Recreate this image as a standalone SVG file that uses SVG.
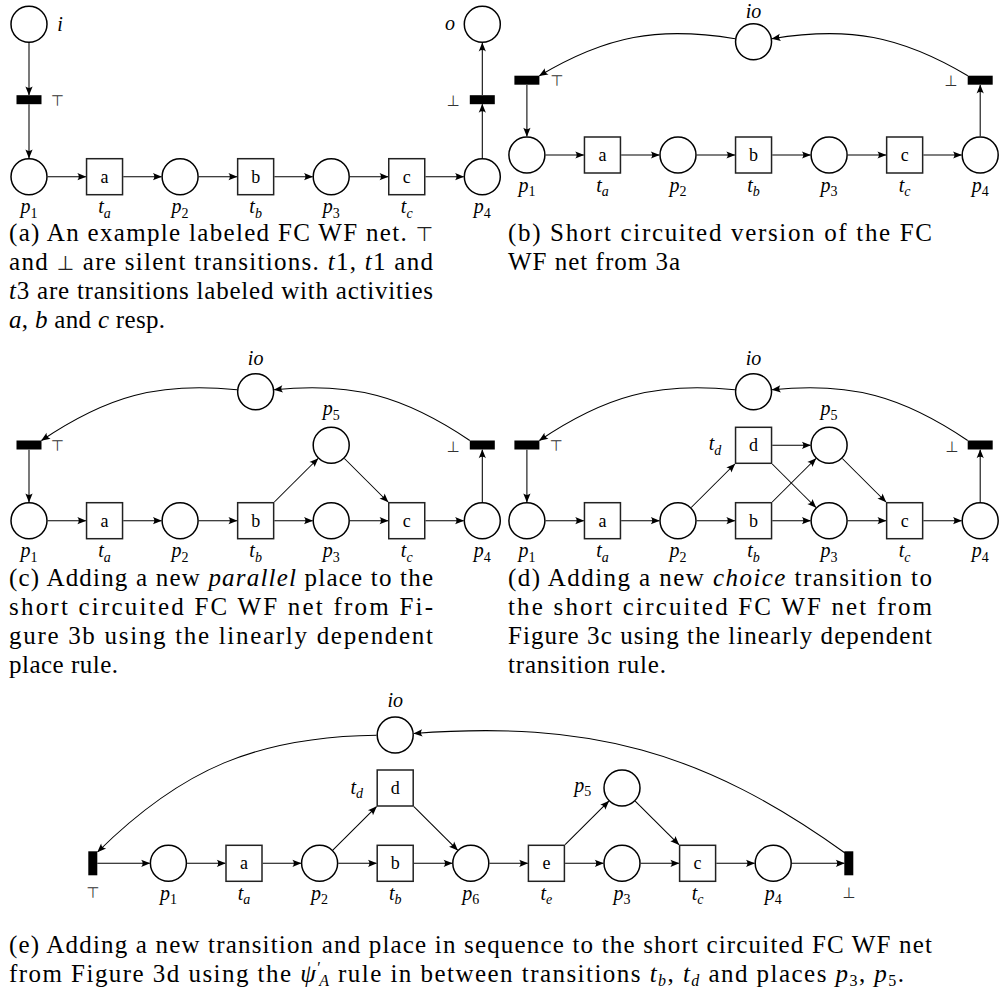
<svg xmlns="http://www.w3.org/2000/svg" width="1003" height="988" viewBox="0 0 1003 988">
<style>
.place{fill:#fff;stroke:#000;stroke-width:1.5}
.trans{fill:#fff;stroke:#222;stroke-width:1.5}
.bar{fill:#000}
.arc{fill:none;stroke:#000;stroke-width:1.05;marker-end:url(#ah)}
.lbl{font-family:'Liberation Serif',serif;font-size:20px;font-style:italic;text-anchor:middle;fill:#000}
.sb{font-size:14px}
.up{font-style:normal}
.nl{font-family:'Liberation Serif',serif;font-size:18px;text-anchor:middle;fill:#000}
.sym{font-family:'DejaVu Sans',sans-serif;font-size:15px;text-anchor:middle;fill:#333}
.cap{font-family:'Liberation Serif',serif;font-size:25px;fill:#000}
.it{font-style:italic}
.csym{font-family:'DejaVu Sans',sans-serif;font-size:20px;fill:#222}
</style>
<defs>
<marker id="ah" viewBox="-10 -5 11 10" refX="0" refY="0" markerWidth="11" markerHeight="10" markerUnits="userSpaceOnUse" orient="auto">
<path d="M0.5,0 L-8.5,-3.6 Q-5.6,0 -8.5,3.6 Z" fill="#000"/>
</marker>
</defs>
<rect width="1003" height="988" fill="#fff"/>

<g id="connectors">
<!-- panel a -->
<line class="arc" x1="29" y1="43" x2="29" y2="95"/>
<line class="arc" x1="29" y1="104.2" x2="29" y2="158"/>
<line class="arc" x1="47.7" y1="176.7" x2="85.85" y2="176.7"/>
<line class="arc" x1="123.25" y1="176.7" x2="161.4" y2="176.7"/>
<line class="arc" x1="198.8" y1="176.7" x2="236.95" y2="176.7"/>
<line class="arc" x1="274.35" y1="176.7" x2="312.5" y2="176.7"/>
<line class="arc" x1="349.9" y1="176.7" x2="388.05" y2="176.7"/>
<line class="arc" x1="425.45" y1="176.7" x2="463.6" y2="176.7"/>
<line class="arc" x1="482.3" y1="158" x2="482.3" y2="104.2"/>
<line class="arc" x1="482.3" y1="95" x2="482.3" y2="43"/>
<!-- panel b -->
<path class="arc" d="M735.1,38.7 C658.2,26.1 606.6,35.6 539.4,75.7"/>
<path class="arc" d="M967.8,75.7 C900.4,35.6 848.8,26.1 772,38.7"/>
<line class="arc" x1="526.9" y1="84.9" x2="526.9" y2="136.3"/>
<line class="arc" x1="545.6" y1="155" x2="583.75" y2="155"/>
<line class="arc" x1="621.15" y1="155" x2="659.3" y2="155"/>
<line class="arc" x1="696.7" y1="155" x2="734.85" y2="155"/>
<line class="arc" x1="772.25" y1="155" x2="810.4" y2="155"/>
<line class="arc" x1="847.8" y1="155" x2="885.95" y2="155"/>
<line class="arc" x1="923.35" y1="155" x2="961.5" y2="155"/>
<line class="arc" x1="980.2" y1="136.3" x2="980.2" y2="84.9"/>
<!-- panel c -->
<path class="arc" d="M237.05,389.8 C158.35,381.7 107.1,396.3 41.5,440.5"/>
<path class="arc" d="M469.8,440.5 C404.2,396.3 352.95,381.7 274.25,389.8"/>
<line class="arc" x1="29" y1="449.7" x2="29" y2="502"/>
<line class="arc" x1="47.7" y1="520.7" x2="85.85" y2="520.7"/>
<line class="arc" x1="123.25" y1="520.7" x2="161.4" y2="520.7"/>
<line class="arc" x1="198.8" y1="520.7" x2="236.95" y2="520.7"/>
<line class="arc" x1="274.35" y1="520.7" x2="312.5" y2="520.7"/>
<line class="arc" x1="349.9" y1="520.7" x2="388.05" y2="520.7"/>
<line class="arc" x1="425.45" y1="520.7" x2="463.6" y2="520.7"/>
<line class="arc" x1="482.3" y1="502" x2="482.3" y2="449.7"/>
<line class="arc" x1="274.35" y1="502" x2="318" y2="458.5"/>
<line class="arc" x1="344.4" y1="458.5" x2="388.05" y2="502"/>
<!-- panel d -->
<path class="arc" d="M734.95,389.8 C656.25,381.7 605,396.3 539.4,440.5"/>
<path class="arc" d="M967.7,440.5 C902.1,396.3 850.85,381.7 772.15,389.8"/>
<line class="arc" x1="526.9" y1="449.7" x2="526.9" y2="502"/>
<line class="arc" x1="545.6" y1="520.7" x2="583.75" y2="520.7"/>
<line class="arc" x1="621.15" y1="520.7" x2="659.3" y2="520.7"/>
<line class="arc" x1="696.7" y1="520.7" x2="734.85" y2="520.7"/>
<line class="arc" x1="772.25" y1="520.7" x2="810.4" y2="520.7"/>
<line class="arc" x1="847.8" y1="520.7" x2="885.95" y2="520.7"/>
<line class="arc" x1="923.35" y1="520.7" x2="961.5" y2="520.7"/>
<line class="arc" x1="980.2" y1="502" x2="980.2" y2="449.7"/>
<line class="arc" x1="772.25" y1="445.3" x2="810.4" y2="445.3"/>
<line class="arc" x1="691.2" y1="507.5" x2="734.85" y2="464"/>
<line class="arc" x1="772.25" y1="464" x2="815.9" y2="507.5"/>
<line class="arc" x1="772.25" y1="502" x2="815.9" y2="458.5"/>
<line class="arc" x1="842.3" y1="458.5" x2="885.95" y2="502"/>
<!-- panel e -->
<path class="arc" d="M376.5,735.2 C258,736.6 181.6,768.7 97.6,852"/>
<path class="arc" d="M845,853 C702.9,750.8 588.4,720.4 413.9,733.5"/>
<line class="arc" x1="97.3" y1="863.3" x2="149.7" y2="863.3"/>
<line class="arc" x1="187.1" y1="863.3" x2="225.3" y2="863.3"/>
<line class="arc" x1="262.7" y1="863.3" x2="300.9" y2="863.3"/>
<line class="arc" x1="338.3" y1="863.3" x2="376.5" y2="863.3"/>
<line class="arc" x1="413.9" y1="863.3" x2="452.1" y2="863.3"/>
<line class="arc" x1="489.5" y1="863.3" x2="527.7" y2="863.3"/>
<line class="arc" x1="565.1" y1="863.3" x2="603.3" y2="863.3"/>
<line class="arc" x1="640.7" y1="863.3" x2="678.9" y2="863.3"/>
<line class="arc" x1="716.3" y1="863.3" x2="754.5" y2="863.3"/>
<line class="arc" x1="791.9" y1="863.3" x2="844.3" y2="863.3"/>
<line class="arc" x1="332.8" y1="850.1" x2="376.5" y2="806.7"/>
<line class="arc" x1="413.9" y1="806.7" x2="457.6" y2="850.1"/>
<line class="arc" x1="565.1" y1="844.6" x2="608.8" y2="801.2"/>
<line class="arc" x1="635.2" y1="801.2" x2="678.9" y2="844.6"/>
</g>

<!-- panel a -->
<g id="a-i"><circle class="place" cx="29" cy="24.3" r="18"/><text class="lbl" x="60" y="31">i</text></g>
<g id="a-top"><rect class="bar" x="16.5" y="95.2" width="25" height="9"/><text class="sym" x="57.3" y="105.5">⊤</text></g>
<g id="a-p1"><circle class="place" cx="29" cy="176.7" r="18"/><text class="lbl" x="29" y="213.2">p<tspan class="sb up" dy="4.5">1</tspan></text></g>
<g id="a-ta"><rect class="trans" x="86.55" y="158.7" width="36" height="36"/><text class="nl" x="104.55" y="182.5">a</text><text class="lbl" x="104.55" y="213.2">t<tspan class="sb" dy="4.5">a</tspan></text></g>
<g id="a-p2"><circle class="place" cx="180.1" cy="176.7" r="18"/><text class="lbl" x="180.1" y="213.2">p<tspan class="sb up" dy="4.5">2</tspan></text></g>
<g id="a-tb"><rect class="trans" x="237.65" y="158.7" width="36" height="36"/><text class="nl" x="255.65" y="182.5">b</text><text class="lbl" x="255.65" y="213.2">t<tspan class="sb" dy="4.5">b</tspan></text></g>
<g id="a-p3"><circle class="place" cx="331.2" cy="176.7" r="18"/><text class="lbl" x="331.2" y="213.2">p<tspan class="sb up" dy="4.5">3</tspan></text></g>
<g id="a-tc"><rect class="trans" x="388.75" y="158.7" width="36" height="36"/><text class="nl" x="406.75" y="182.5">c</text><text class="lbl" x="406.75" y="213.2">t<tspan class="sb" dy="4.5">c</tspan></text></g>
<g id="a-p4"><circle class="place" cx="482.3" cy="176.7" r="18"/><text class="lbl" x="482.3" y="213.2">p<tspan class="sb up" dy="4.5">4</tspan></text></g>
<g id="a-bot"><rect class="bar" x="469.8" y="95.2" width="25" height="9"/><text class="sym" x="453" y="105.5">⊥</text></g>
<g id="a-o"><circle class="place" cx="482.3" cy="24.3" r="18"/><text class="lbl" x="450" y="30">o</text></g>

<!-- panel b -->
<g id="b-io"><circle class="place" cx="753.55" cy="41.7" r="18"/><text class="lbl" x="753.55" y="17.5">io</text></g>
<g id="b-top"><rect class="bar" x="514.4" y="75.7" width="25" height="9"/><text class="sym" x="556.7" y="86.3">⊤</text></g>
<g id="b-bot"><rect class="bar" x="967.7" y="75.7" width="25" height="9"/><text class="sym" x="950.7" y="86.3">⊥</text></g>
<g id="b-p1"><circle class="place" cx="526.9" cy="155" r="18"/><text class="lbl" x="526.9" y="191.5">p<tspan class="sb up" dy="4.5">1</tspan></text></g>
<g id="b-ta"><rect class="trans" x="584.45" y="137" width="36" height="36"/><text class="nl" x="602.45" y="160.8">a</text><text class="lbl" x="602.45" y="191.5">t<tspan class="sb" dy="4.5">a</tspan></text></g>
<g id="b-p2"><circle class="place" cx="678" cy="155" r="18"/><text class="lbl" x="678" y="191.5">p<tspan class="sb up" dy="4.5">2</tspan></text></g>
<g id="b-tb"><rect class="trans" x="735.55" y="137" width="36" height="36"/><text class="nl" x="753.55" y="160.8">b</text><text class="lbl" x="753.55" y="191.5">t<tspan class="sb" dy="4.5">b</tspan></text></g>
<g id="b-p3"><circle class="place" cx="829.1" cy="155" r="18"/><text class="lbl" x="829.1" y="191.5">p<tspan class="sb up" dy="4.5">3</tspan></text></g>
<g id="b-tc"><rect class="trans" x="886.65" y="137" width="36" height="36"/><text class="nl" x="904.65" y="160.8">c</text><text class="lbl" x="904.65" y="191.5">t<tspan class="sb" dy="4.5">c</tspan></text></g>
<g id="b-p4"><circle class="place" cx="980.2" cy="155" r="18"/><text class="lbl" x="980.2" y="191.5">p<tspan class="sb up" dy="4.5">4</tspan></text></g>

<!-- panel c -->
<g id="c-io"><circle class="place" cx="255.65" cy="391.7" r="18"/><text class="lbl" x="255.65" y="364.5">io</text></g>
<g id="c-top"><rect class="bar" x="16.5" y="440.5" width="25" height="9"/><text class="sym" x="57.3" y="451">⊤</text></g>
<g id="c-bot"><rect class="bar" x="469.8" y="440.5" width="25" height="9"/><text class="sym" x="453" y="451.5">⊥</text></g>
<g id="c-p5"><circle class="place" cx="331.2" cy="445.3" r="18"/><text class="lbl" x="331.2" y="415">p<tspan class="sb up" dy="4.5">5</tspan></text></g>
<g id="c-p1"><circle class="place" cx="29" cy="520.7" r="18"/><text class="lbl" x="29" y="557.2">p<tspan class="sb up" dy="4.5">1</tspan></text></g>
<g id="c-ta"><rect class="trans" x="86.55" y="502.7" width="36" height="36"/><text class="nl" x="104.55" y="526.5">a</text><text class="lbl" x="104.55" y="557.2">t<tspan class="sb" dy="4.5">a</tspan></text></g>
<g id="c-p2"><circle class="place" cx="180.1" cy="520.7" r="18"/><text class="lbl" x="180.1" y="557.2">p<tspan class="sb up" dy="4.5">2</tspan></text></g>
<g id="c-tb"><rect class="trans" x="237.65" y="502.7" width="36" height="36"/><text class="nl" x="255.65" y="526.5">b</text><text class="lbl" x="255.65" y="557.2">t<tspan class="sb" dy="4.5">b</tspan></text></g>
<g id="c-p3"><circle class="place" cx="331.2" cy="520.7" r="18"/><text class="lbl" x="331.2" y="557.2">p<tspan class="sb up" dy="4.5">3</tspan></text></g>
<g id="c-tc"><rect class="trans" x="388.75" y="502.7" width="36" height="36"/><text class="nl" x="406.75" y="526.5">c</text><text class="lbl" x="406.75" y="557.2">t<tspan class="sb" dy="4.5">c</tspan></text></g>
<g id="c-p4"><circle class="place" cx="482.3" cy="520.7" r="18"/><text class="lbl" x="482.3" y="557.2">p<tspan class="sb up" dy="4.5">4</tspan></text></g>

<!-- panel d -->
<g id="d-io"><circle class="place" cx="753.55" cy="391.7" r="18"/><text class="lbl" x="753.55" y="364.5">io</text></g>
<g id="d-top"><rect class="bar" x="514.4" y="440.5" width="25" height="9"/><text class="sym" x="556" y="451">⊤</text></g>
<g id="d-bot"><rect class="bar" x="967.7" y="440.5" width="25" height="9"/><text class="sym" x="951.7" y="451.5">⊥</text></g>
<g id="d-td"><rect class="trans" x="735.55" y="427.3" width="36" height="36"/><text class="nl" x="753.55" y="451.1">d</text><text class="lbl" x="715" y="450">t<tspan class="sb" dy="4.5">d</tspan></text></g>
<g id="d-p5"><circle class="place" cx="829.1" cy="445.3" r="18"/><text class="lbl" x="829.1" y="415">p<tspan class="sb up" dy="4.5">5</tspan></text></g>
<g id="d-p1"><circle class="place" cx="526.9" cy="520.7" r="18"/><text class="lbl" x="526.9" y="557.2">p<tspan class="sb up" dy="4.5">1</tspan></text></g>
<g id="d-ta"><rect class="trans" x="584.45" y="502.7" width="36" height="36"/><text class="nl" x="602.45" y="526.5">a</text><text class="lbl" x="602.45" y="557.2">t<tspan class="sb" dy="4.5">a</tspan></text></g>
<g id="d-p2"><circle class="place" cx="678" cy="520.7" r="18"/><text class="lbl" x="678" y="557.2">p<tspan class="sb up" dy="4.5">2</tspan></text></g>
<g id="d-tb"><rect class="trans" x="735.55" y="502.7" width="36" height="36"/><text class="nl" x="753.55" y="526.5">b</text><text class="lbl" x="753.55" y="557.2">t<tspan class="sb" dy="4.5">b</tspan></text></g>
<g id="d-p3"><circle class="place" cx="829.1" cy="520.7" r="18"/><text class="lbl" x="829.1" y="557.2">p<tspan class="sb up" dy="4.5">3</tspan></text></g>
<g id="d-tc"><rect class="trans" x="886.65" y="502.7" width="36" height="36"/><text class="nl" x="904.65" y="526.5">c</text><text class="lbl" x="904.65" y="557.2">t<tspan class="sb" dy="4.5">c</tspan></text></g>
<g id="d-p4"><circle class="place" cx="980.2" cy="520.7" r="18"/><text class="lbl" x="980.2" y="557.2">p<tspan class="sb up" dy="4.5">4</tspan></text></g>

<!-- panel e -->
<g id="e-io"><circle class="place" cx="395.2" cy="735" r="18"/><text class="lbl" x="395.2" y="706.5">io</text></g>
<g id="e-top"><rect class="bar" x="88.3" y="851.3" width="9" height="24"/><text class="sym" x="92.8" y="898">⊤</text></g>
<g id="e-p1"><circle class="place" cx="168.4" cy="863.3" r="18"/><text class="lbl" x="168.4" y="899.8">p<tspan class="sb up" dy="4.5">1</tspan></text></g>
<g id="e-ta"><rect class="trans" x="226" y="845.3" width="36" height="36"/><text class="nl" x="244" y="869.1">a</text><text class="lbl" x="244" y="899.8">t<tspan class="sb" dy="4.5">a</tspan></text></g>
<g id="e-p2"><circle class="place" cx="319.6" cy="863.3" r="18"/><text class="lbl" x="319.6" y="899.8">p<tspan class="sb up" dy="4.5">2</tspan></text></g>
<g id="e-td"><rect class="trans" x="377.2" y="770" width="36" height="36"/><text class="nl" x="395.2" y="793.8">d</text><text class="lbl" x="356.7" y="793.5">t<tspan class="sb" dy="4.5">d</tspan></text></g>
<g id="e-tb"><rect class="trans" x="377.2" y="845.3" width="36" height="36"/><text class="nl" x="395.2" y="869.1">b</text><text class="lbl" x="395.2" y="899.8">t<tspan class="sb" dy="4.5">b</tspan></text></g>
<g id="e-p6"><circle class="place" cx="470.8" cy="863.3" r="18"/><text class="lbl" x="470.8" y="899.8">p<tspan class="sb up" dy="4.5">6</tspan></text></g>
<g id="e-te"><rect class="trans" x="528.4" y="845.3" width="36" height="36"/><text class="nl" x="546.4" y="869.1">e</text><text class="lbl" x="546.4" y="899.8">t<tspan class="sb" dy="4.5">e</tspan></text></g>
<g id="e-p5"><circle class="place" cx="622" cy="788" r="18"/><text class="lbl" x="582.7" y="791.5">p<tspan class="sb up" dy="4.5">5</tspan></text></g>
<g id="e-p3"><circle class="place" cx="622" cy="863.3" r="18"/><text class="lbl" x="622" y="899.8">p<tspan class="sb up" dy="4.5">3</tspan></text></g>
<g id="e-tc"><rect class="trans" x="679.6" y="845.3" width="36" height="36"/><text class="nl" x="697.6" y="869.1">c</text><text class="lbl" x="697.6" y="899.8">t<tspan class="sb" dy="4.5">c</tspan></text></g>
<g id="e-p4"><circle class="place" cx="773.2" cy="863.3" r="18"/><text class="lbl" x="773.2" y="899.8">p<tspan class="sb up" dy="4.5">4</tspan></text></g>
<g id="e-bot"><rect class="bar" x="844.3" y="851.3" width="9" height="24"/><text class="sym" x="848.8" y="898">⊥</text></g>

<g id="captions">
<text class="cap" x="9" y="241" textLength="424" lengthAdjust="spacing">(a) An example labeled FC WF net. <tspan class="csym">⊤</tspan></text>
<text class="cap" x="9" y="270" textLength="424" lengthAdjust="spacing">and <tspan class="csym">⊥</tspan> are silent transitions. <tspan class="it">t</tspan>1, <tspan class="it">t</tspan>1 and</text>
<text class="cap" x="9" y="299" textLength="424" lengthAdjust="spacing"><tspan class="it">t</tspan>3 are transitions labeled with activities</text>
<text class="cap" x="9" y="328" textLength="156" lengthAdjust="spacing"><tspan class="it">a</tspan>, <tspan class="it">b</tspan> and <tspan class="it">c</tspan> resp.</text>

<text class="cap" x="508" y="241" textLength="424" lengthAdjust="spacing">(b) Short circuited version of the FC</text>
<text class="cap" x="508" y="270" textLength="172" lengthAdjust="spacing">WF net from 3a</text>

<text class="cap" x="9" y="586" textLength="424" lengthAdjust="spacing">(c) Adding a new <tspan class="it">parallel</tspan> place to the</text>
<text class="cap" x="9" y="615" textLength="424" lengthAdjust="spacing">short circuited FC WF net from Fi-</text>
<text class="cap" x="9" y="644" textLength="424" lengthAdjust="spacing">gure 3b using the linearly dependent</text>
<text class="cap" x="9" y="673" textLength="109" lengthAdjust="spacing">place rule.</text>

<text class="cap" x="508" y="586" textLength="424" lengthAdjust="spacing">(d) Adding a new <tspan class="it">choice</tspan> transition to</text>
<text class="cap" x="508" y="615" textLength="424" lengthAdjust="spacing">the short circuited FC WF net from</text>
<text class="cap" x="508" y="644" textLength="424" lengthAdjust="spacing">Figure 3c using the linearly dependent</text>
<text class="cap" x="508" y="673" textLength="158" lengthAdjust="spacing">transition rule.</text>

<text class="cap" x="9" y="953" textLength="923" lengthAdjust="spacing">(e) Adding a new transition and place in sequence to the short circuited FC WF net</text>
<text class="cap" x="9" y="982" textLength="895" lengthAdjust="spacing">from Figure 3d using the <tspan class="it">ψ</tspan><tspan font-size="16" dy="-9">′</tspan><tspan class="it" font-size="16" dy="13" dx="-3">A</tspan><tspan dy="-4"> rule in between transitions </tspan><tspan class="it">t</tspan><tspan class="it" font-size="16" dy="4">b</tspan><tspan dy="-4">, </tspan><tspan class="it">t</tspan><tspan class="it" font-size="16" dy="4">d</tspan><tspan dy="-4"> and places </tspan><tspan class="it">p</tspan><tspan font-size="16" dy="4">3</tspan><tspan dy="-4">, </tspan><tspan class="it">p</tspan><tspan font-size="16" dy="4">5</tspan><tspan dy="-4">.</tspan></text>
</g>
</svg>
